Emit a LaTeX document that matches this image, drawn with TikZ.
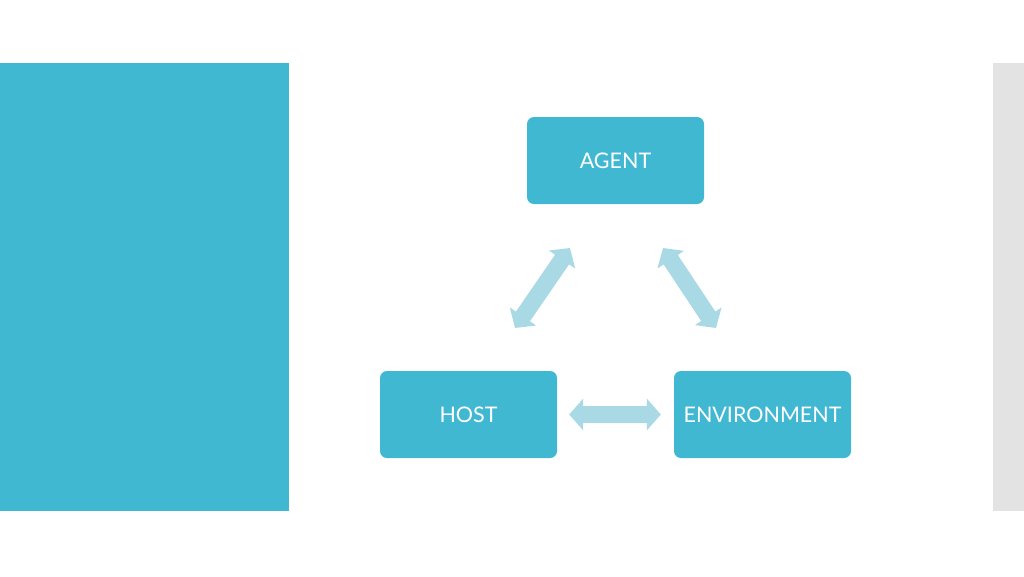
\documentclass[tikz,border=0pt]{standalone}
\usepackage{fontspec}
\setmainfont{Lato}
\usetikzlibrary{arrows.meta}
\definecolor{cyanbox}{HTML}{41B8D2}
\definecolor{paleblue}{HTML}{A9D9E5}
\definecolor{sidegray}{HTML}{E3E3E3}
\begin{document}
\begin{tikzpicture}[
  x=1pt, y=-1pt,
  rolebox/.style = {fill=cyanbox, rounded corners=7pt, minimum width=177pt,
    minimum height=87pt, text=white, font=\fontsize{21.5}{25}\selectfont},
  linkarrow/.style = {draw=paleblue, line width=17pt,
    {Triangle[width=31pt,length=14pt]}-{Triangle[width=31pt,length=14pt]}}
]
  % page and panels
  \useasboundingbox[fill=white] (0,0) rectangle (1024,576);
  \fill[cyanbox] (0,63) rectangle (289,511);
  \fill[sidegray] (993,63) rectangle (1024,511);
  % boxes
  \node[rolebox] (agent) at (615.5,160.5) {AGENT};
  \node[rolebox] (host) at (468.5,414.5) {HOST};
  \node[rolebox] (env) at (762.5,414.5) {ENVIRONMENT};
  % arrow ends
  \coordinate (ahL) at (570,248);
  \coordinate (hoT) at (515,328);
  \coordinate (ahR) at (663,248);
  \coordinate (enT) at (716,328);
  % links
  \draw[linkarrow] (hoT) -- (ahL);
  \draw[linkarrow] (ahR) -- (enT);
  \draw[linkarrow, shorten <=12pt, shorten >=13pt] (host.east) -- (env.west);
\end{tikzpicture}
\end{document}
